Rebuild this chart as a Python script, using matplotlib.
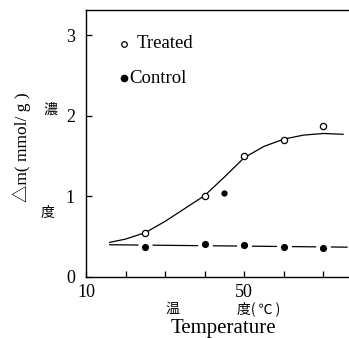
import numpy as np
import matplotlib.pyplot as plt

plt.rcParams['font.family'] = ['Liberation Serif', 'Noto Sans CJK JP']

# measured points
treated_t = [25, 40, 50, 60, 70]
treated_v = [0.55, 1.01, 1.50, 1.70, 1.87]
control_t = [25, 40, 50, 60, 70]
control_v = [0.37, 0.41, 0.40, 0.37, 0.36]
extra_t = [45]
extra_v = [1.04]

# fitted curves
fit_t = [16, 20, 25, 30, 35, 40, 45, 50, 55, 60, 65, 70, 75]
fit_v = [0.43, 0.47, 0.55, 0.69, 0.85, 1.01, 1.24, 1.48, 1.62, 1.71, 1.76, 1.78, 1.77]
ctrl_line_t = [16, 76]
ctrl_line_v = [0.40, 0.37]

xticks = [10, 20, 30, 40, 50, 60, 70]
xticklabels = ['10', '', '', '', '50', '', '']
yticks = [0, 1, 2, 3]

fig = plt.figure(figsize=(3.49, 3.38), dpi=100)
ax = fig.add_axes([0.2464, 0.1805, 0.7536, 0.7895])

ax.plot(fit_t, fit_v, color='black', lw=0.9)
ax.plot(ctrl_line_t, ctrl_line_v, color='black', lw=0.9)
# white halo makes the gaps around control points
ax.plot(treated_t, treated_v, 'o', mfc='white', mec='black', ms=4.5, mew=0.9)
ax.plot(control_t, control_v, 'o', mfc='black', mec='white', ms=8, mew=2.8)
ax.plot(extra_t, extra_v, 'o', color='black', ms=3.5)

ax.set_xlim(10, 76.5)
ax.set_ylim(0, 3.31)
ax.set_xticks(xticks)
ax.set_xticklabels(xticklabels)
ax.set_yticks(yticks)
ax.tick_params(direction='in', length=4, width=0.9, labelsize=13, pad=8)
ax.tick_params(axis='x', pad=5)
ax.spines['right'].set_visible(False)
for s in ['left', 'bottom', 'top']:
    ax.spines[s].set_linewidth(1.0)

# legend drawn by hand
ax.plot([19.6], [2.89], 'o', mfc='white', mec='black', ms=4, mew=0.9)
ax.text(22.8, 2.90, 'Treated', fontsize=13.5, va='center', ha='left')
ax.plot([19.6], [2.47], 'o', color='black', ms=4.5)
ax.text(21.0, 2.46, 'Control', fontsize=13.5, va='center', ha='left')

fig.text(0.063, 0.565, '△m( mmol/ g )', rotation=90, fontsize=12.5, ha='center', va='center')
fig.text(0.143, 0.675, '濃', fontsize=10, ha='center', va='center', family=['Noto Sans CJK JP'])
fig.text(0.135, 0.37, '度', fontsize=10, ha='center', va='center', family=['Noto Sans CJK JP'])
fig.text(0.493, 0.085, '温', fontsize=10, ha='center', va='center', family=['Noto Sans CJK JP'])
fig.text(0.742, 0.085, '度( ℃ )', fontsize=10, ha='center', va='center', family=['Noto Sans CJK JP'])
fig.text(0.639, 0.027, 'Temperature', fontsize=15, ha='center', va='center')

fig.savefig('out.png', dpi=100)
